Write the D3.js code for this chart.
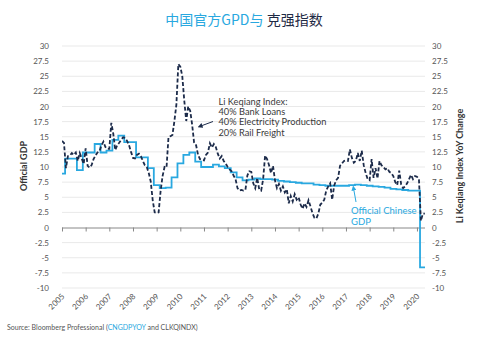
<!DOCTYPE html>
<html><head><meta charset="utf-8">
<script src="https://cdn.jsdelivr.net/npm/d3@7"></script>
<style>
body{margin:0;background:#fff;}
svg{display:block;font-family:Lato,"Noto Sans",sans-serif;}
</style></head>
<body><svg id="c" width="488" height="341"></svg>
<script>
// ---- data ----
const years = d3.range(2005, 2021);
const yTicks = [30,27.5,25,22.5,20,17.5,15,12.5,10,7.5,5,2.5,0,-2.5,-5,-7.5,-10];
// Official GDP YoY (quarterly steps), first step starts 2004.88
const gdpStart = 2004.88;
const gdpValues = [8.9,11.4,11.4,9.5,12.4,12.4,13.8,12.4,12.7,14.5,15.2,14.1,14.1,11.6,11.6,9.8,
  7.0,6.5,6.6,8.3,10.6,12.0,12.4,10.9,10.0,10.0,10.4,10.1,9.8,9.1,8.3,7.8,
  7.9,8.1,8.0,8.0,7.9,7.7,7.6,7.5,7.4,7.3,7.3,7.1,7.0,6.9,6.9,6.9,
  6.9,7.0,7.1,7.0,6.9,6.8,6.7,6.6,6.4,6.3,6.2,6.1,6.1,-6.6];
// Li Keqiang Index YoY (monthly, from Jan 2005)
const lkqValues = [
  14.3,14.0,9.8,11.8,11.9,12.3,12.0,12.4,11.0,12.3,11.4,10.5,
  13.1,10.2,9.9,10.3,11.3,11.9,12.4,12.6,13.6,14.2,13.3,13.0,
  13.0,17.3,15.5,12.8,13.6,14.0,14.5,14.9,14.8,14.3,13.6,12.5,
  11.5,11.4,12.0,12.2,11.8,11.0,10.3,10.0,9.0,7.6,4.5,2.5,
  2.4,2.5,6.0,8.5,10.0,9.9,14.9,15.1,15.3,17.6,20.3,27.0,
  26.6,25.0,21.0,17.6,20.0,19.3,17.0,14.0,13.6,12.0,11.3,11.2,
  11.1,12.0,12.4,13.9,13.2,13.8,13.3,12.2,11.4,11.8,11.0,10.6,
  10.0,9.6,9.3,8.6,8.0,6.5,6.1,6.2,6.1,6.2,8.6,9.3,
  9.2,7.3,6.5,8.2,6.3,6.1,8.0,11.9,11.3,10.3,9.0,10.2,
  7.8,6.5,7.2,6.1,6.8,5.8,6.3,4.0,5.2,4.3,5.5,4.6,
  5.0,3.8,3.1,4.0,3.4,4.5,3.5,2.4,1.6,1.5,2.3,3.8,
  4.1,4.6,6.1,6.8,7.3,4.6,6.9,7.8,8.2,10.2,10.6,11.0,
  11.1,11.0,12.9,11.5,10.7,11.0,12.3,11.0,12.7,10.3,9.0,8.0,
  7.8,11.3,8.2,9.8,8.1,11.0,10.3,10.0,9.6,9.8,9.2,9.0,
  8.5,7.5,7.0,9.4,7.1,6.5,6.8,7.3,8.0,8.7,8.0,8.5,
  8.4,8.0,1.1,2.3,2.3];
const annotLines = ["Li Keqiang Index:","40% Bank Loans","40% Electricity Production","20% Rail Freight"];
const gdpLabel = ["Official Chinese","GDP"];

// ---- layout ----
const svg = d3.select("#c");
const blue = "#29a8e0", navy = "#1c2b4a";
const x = d3.scaleLinear().domain([2005, 2020.34]).range([62, 425]);
const y = d3.scaleLinear().domain([-10, 30]).range([288, 46]);

const defs = svg.append("defs");
defs.append("clipPath").attr("id","clip")
  .append("rect").attr("x",62).attr("y",40).attr("width",363).attr("height",255);

// title
const t = svg.append("text").attr("x",244).attr("y",25).attr("text-anchor","middle")
  .style("font-family",'"Noto Sans CJK SC","Noto Sans",sans-serif').style("font-size","14px");
t.append("tspan").attr("fill",blue).text("中国官方GPD与 ");
t.append("tspan").attr("fill","#1f2a44").text("克强指数");

// gridlines
svg.append("g").selectAll("line").data(yTicks.filter(d=>d!==0)).join("line")
  .attr("x1",62).attr("x2",425).attr("y1",d=>y(d)).attr("y2",d=>y(d))
  .attr("stroke","#e9e9e9").attr("stroke-width",1);

// left & right labels
svg.append("g").selectAll("text").data(yTicks).join("text")
  .attr("x",49).attr("y",d=>y(d)+3).attr("text-anchor","end")
  .attr("fill","#555").style("font-size","8px").text(d=>d);
svg.append("g").selectAll("text").data(yTicks).join("text")
  .attr("x",432).attr("y",d=>y(d)+3).attr("text-anchor","start")
  .attr("fill","#555").style("font-size","8px").text(d=>d);

// zero axis with ticks
const xAxis = d3.axisBottom(x).tickValues(years).tickSize(4).tickFormat("");
const ax = svg.append("g").attr("transform",`translate(0,${y(0)})`).call(xAxis);
ax.select(".domain").attr("stroke","#888").attr("d","M62,0.5H425");
ax.selectAll(".tick line").attr("stroke","#888");

// year labels
svg.append("g").selectAll("text").data(years).join("text")
  .attr("transform",d=>`translate(${x(d)+3},${297}) rotate(-45)`)
  .attr("text-anchor","end").attr("fill","#555").style("font-size","8px").text(d=>d);

// axis titles
svg.append("text").attr("transform","translate(27,166) rotate(-90)").attr("text-anchor","middle")
  .attr("fill","#333").style("font-size","9px").style("font-weight","700").text("Official GDP");
svg.append("text").attr("transform","translate(463,166) rotate(-90)").attr("text-anchor","middle")
  .attr("fill","#333").style("font-size","9px").style("font-weight","700").text("Li Keqiang Index YoY Change");

// GDP step line
const gdpData = gdpValues.map((v,i)=>({t: gdpStart + i*0.25, v}));
gdpData.push({t: 2020.34, v: gdpValues[gdpValues.length-1]});
svg.append("path").datum(gdpData).attr("clip-path","url(#clip)")
  .attr("fill","none").attr("stroke",blue).attr("stroke-width",1.8)
  .attr("d", d3.line().x(d=>x(d.t)).y(d=>y(d.v)).curve(d3.curveStepAfter));

// LKQ dashed line
const lkqData = lkqValues.map((v,i)=>({t: 2005 + i/12, v}));
svg.append("path").datum(lkqData).attr("clip-path","url(#clip)")
  .attr("fill","none").attr("stroke",navy).attr("stroke-width",1.8)
  .attr("stroke-dasharray","4,2.2")
  .attr("d", d3.line().x(d=>x(d.t)).y(d=>y(d.v)));

// markers
const mk = defs.append("marker").attr("id","ah").attr("viewBox","0 0 10 10")
  .attr("refX",5).attr("refY",5).attr("markerWidth",5).attr("markerHeight",5).attr("orient","auto-start-reverse");
mk.append("path").attr("d","M0,0L10,5L0,10z").attr("fill",navy);
const mk2 = defs.append("marker").attr("id","ah2").attr("viewBox","0 0 10 10")
  .attr("refX",5).attr("refY",5).attr("markerWidth",5).attr("markerHeight",5).attr("orient","auto-start-reverse");
mk2.append("path").attr("d","M0,0L10,5L0,10z").attr("fill",blue);

// annotation Li Keqiang (compressed horizontally to match reference width)
const ag = svg.append("g");
const at = ag.selectAll("text").data(annotLines).join("text")
  .attr("x",0).attr("y",(d,i)=>105 + i*10.2).attr("fill","#3a3a3a")
  .style("font-size","9.3px").text(d=>d);
const wMax = d3.max(at.nodes(), n=>n.getComputedTextLength());
const sx = Math.min(1, 108 / wMax);
ag.attr("transform",`translate(218.5,0) scale(${sx},1)`);
svg.append("line").attr("x1",213).attr("y1",121.5).attr("x2",200).attr("y2",126.3)
  .attr("stroke",navy).attr("stroke-width",1).attr("marker-end","url(#ah)");

// annotation GDP
svg.append("g").selectAll("text").data(gdpLabel).join("text")
  .attr("x",351).attr("y",(d,i)=>214 + i*10.5).attr("fill",blue)
  .style("font-size","9.5px").text(d=>d);
svg.append("line").attr("x1",356).attr("y1",202).attr("x2",353.5).attr("y2",188)
  .attr("stroke",blue).attr("stroke-width",1).attr("marker-end","url(#ah2)");

// source
const s = svg.append("text").attr("x",7).attr("y",330).attr("fill","#555").style("font-size","7px");
s.append("tspan").text("Source: Bloomberg Professional (");
s.append("tspan").attr("fill",blue).text("CNGDPYOY");
s.append("tspan").text(" and CLKQINDX)");
</script></body></html>
